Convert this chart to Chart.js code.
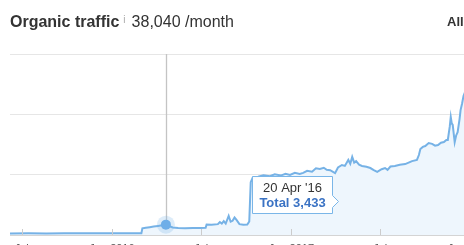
<!DOCTYPE html>
<html>
<head>
<meta charset="utf-8">
<script src="https://cdn.jsdelivr.net/npm/chart.js@4.4.0/dist/chart.umd.min.js"></script>
<style>
html, body { margin: 0; padding: 0; background: #fff; overflow: hidden; }
body { width: 464px; height: 245px; position: relative; font-family: "Liberation Sans", Arial, sans-serif; }
#wrap { position: absolute; left: 0; top: 0; width: 464px; height: 256px; }
.title { position: absolute; left: 10px; top: 12px; font-size: 16px; line-height: 16px; color: #333; white-space: nowrap; }
.title b { font-weight: bold; }
.title .info { font-size: 10px; color: #aaa; vertical-align: 4px; margin: 0 6px 0 4px; }
.range { position: absolute; left: 447px; top: 15px; font-size: 13px; line-height: 13px; font-weight: bold; color: #333; white-space: nowrap; }
</style>
</head>
<body>
<div id="wrap"><canvas id="traffic_chart"></canvas></div>
<div class="title"><b>Organic traffic</b><span class="info">i</span>38,040 /month</div>
<div class="range">All time</div>
<script>
// organic traffic per day
var dates = [
  '2015-06-07', '2015-07-15', '2015-08-20', '2015-09-25', '2015-10-30', '2015-12-05', '2016-01-10', '2016-02-15',
  '2016-03-01', '2016-03-03', '2016-03-10', '2016-03-18', '2016-03-26', '2016-04-04', '2016-04-12', '2016-04-20',
  '2016-04-27', '2016-05-04', '2016-05-15', '2016-05-29', '2016-06-14', '2016-06-28', '2016-07-10', '2016-07-12',
  '2016-07-22', '2016-08-04', '2016-08-08', '2016-08-12', '2016-08-16', '2016-08-20', '2016-08-26', '2016-08-30',
  '2016-09-03', '2016-09-07', '2016-09-11', '2016-09-17', '2016-09-25', '2016-10-03', '2016-10-07', '2016-10-10',
  '2016-10-14', '2016-10-25', '2016-11-05', '2016-11-18', '2016-11-28', '2016-12-10', '2016-12-20', '2016-12-29',
  '2017-01-08', '2017-01-18', '2017-01-25', '2017-02-02', '2017-02-12', '2017-02-20', '2017-02-28', '2017-03-08',
  '2017-03-14', '2017-03-21', '2017-03-31', '2017-04-06', '2017-04-14', '2017-04-20', '2017-04-27', '2017-05-01',
  '2017-05-05', '2017-05-09', '2017-05-13', '2017-05-19', '2017-05-25', '2017-06-03', '2017-06-11', '2017-06-18',
  '2017-06-25', '2017-07-04', '2017-07-11', '2017-07-16', '2017-07-22', '2017-07-31', '2017-08-10', '2017-08-21',
  '2017-08-28', '2017-09-04', '2017-09-14', '2017-09-18', '2017-09-21', '2017-09-26', '2017-10-01', '2017-10-08',
  '2017-10-15', '2017-10-21', '2017-10-27', '2017-11-02', '2017-11-08', '2017-11-13', '2017-11-16', '2017-11-20',
  '2017-11-22', '2017-11-24', '2017-11-26', '2017-11-30', '2017-12-03', '2017-12-06', '2017-12-10', '2017-12-12',
  '2017-12-15', '2017-12-18', '2017-12-24'
];
var traffic = [
  520, 540, 530, 560, 550, 570, 560, 580,
  590, 2200, 2400, 2600, 2800, 3000, 3200, 3433,
  2900, 2500, 2300, 2200, 2300, 2350, 2400, 3500,
  3400, 3600, 4300, 3800, 4600, 3800, 6300, 4400,
  4700, 5800, 5000, 3600, 3400, 3500, 4500, 17500,
  19000, 19300, 19800, 19500, 20100, 19700, 20300, 19900,
  20600, 20200, 20600, 21300, 21000, 22100, 21900, 22300,
  21600, 21500, 20500, 22400, 23200, 22900, 24900, 23600,
  25900, 24000, 24500, 23300, 22900, 22600, 22200, 21500,
  20900, 21800, 22200, 21600, 22700, 22900, 23300, 23500,
  24000, 24500, 24900, 26500, 28500, 29200, 29500, 30500,
  30200, 29600, 29800, 30600, 30800, 31500, 31500, 36000,
  39100, 37000, 36500, 30800, 33000, 34100, 38500, 41400,
  43500, 46100, 48500
];
var tickDates = ['2015-07-01', '2016-01-01', '2016-07-01', '2017-01-01', '2017-07-01', '2018-01-01'];
var tickLabels = ['Jul', 'Jan 2016', 'Jul', 'Jan 2017', 'Jul', 'Jan 2018'];
var axisStart = '2015-06-07';
var axisEnd = '2017-12-19';
var hoverDate = '2016-04-20';

var MONTHS = ['Jan','Feb','Mar','Apr','May','Jun','Jul','Aug','Sep','Oct','Nov','Dec'];
function dayOf(s) {
  var p = s.split('-');
  return Date.UTC(+p[0], +p[1] - 1, +p[2]) / 86400000;
}

var points = dates.map(function (d, i) { return { x: dayOf(d), y: traffic[i] }; });
var hoverIndex = dates.indexOf(hoverDate);

var hoverPlugin = {
  id: 'hover',
  beforeDatasetsDraw: function (chart) {
    var ctx = chart.ctx, area = chart.chartArea;
    var x = Math.round(chart.scales.x.getPixelForValue(points[hoverIndex].x)) + 0.5;
    ctx.save();
    ctx.strokeStyle = '#c4c4c4';
    ctx.lineWidth = 1.3;
    ctx.beginPath();
    ctx.moveTo(x, area.top);
    ctx.lineTo(x, area.bottom);
    ctx.stroke();
    ctx.restore();
  },
  afterDatasetsDraw: function (chart) {
    var ctx = chart.ctx, area = chart.chartArea;
    var xs = chart.scales.x, ys = chart.scales.y;
    ctx.save();
    // tick marks above the axis
    ctx.strokeStyle = '#cccccc';
    ctx.lineWidth = 1;
    xs.ticks.forEach(function (t) {
      var tx = Math.round(xs.getPixelForValue(t.value)) + 0.5;
      ctx.beginPath();
      ctx.moveTo(tx, area.bottom - 6);
      ctx.lineTo(tx, area.bottom);
      ctx.stroke();
    });
    // hovered point
    var px = xs.getPixelForValue(points[hoverIndex].x);
    var py = ys.getPixelForValue(points[hoverIndex].y);
    ctx.fillStyle = 'rgba(118,178,230,0.25)';
    ctx.beginPath(); ctx.arc(px, py, 9, 0, Math.PI * 2); ctx.fill();
    ctx.fillStyle = '#6eaee8';
    ctx.beginPath(); ctx.arc(px, py, 5, 0, Math.PI * 2); ctx.fill();
    // tooltip box with arrow on the right
    var bx = Math.round(px) + 86.5, by = Math.round(py) - 48.5, bw = 80, bh = 37;
    ctx.beginPath();
    ctx.moveTo(bx, by);
    ctx.lineTo(bx + bw, by);
    ctx.lineTo(bx + bw, by + 19);
    ctx.lineTo(bx + bw + 6, by + 25);
    ctx.lineTo(bx + bw, by + 31);
    ctx.lineTo(bx + bw, by + bh);
    ctx.lineTo(bx, by + bh);
    ctx.closePath();
    ctx.fillStyle = 'rgba(255,255,255,0.95)';
    ctx.fill();
    ctx.strokeStyle = '#7ab6e8';
    ctx.lineWidth = 1;
    ctx.stroke();
    var p = hoverDate.split('-');
    var label = (+p[2]) + ' ' + MONTHS[+p[1] - 1] + " '" + p[0].slice(2);
    ctx.textAlign = 'center';
    ctx.textBaseline = 'alphabetic';
    ctx.fillStyle = '#333';
    ctx.font = '13px "Liberation Sans", Arial, sans-serif';
    ctx.fillText(label, bx + bw / 2, by + 15);
    ctx.fillStyle = '#3b73c4';
    ctx.font = 'bold 13px "Liberation Sans", Arial, sans-serif';
    ctx.fillText('Total ' + traffic[hoverIndex].toLocaleString('en-US'), bx + bw / 2, by + 30);
    ctx.restore();
  }
};

var ctx = document.getElementById('traffic_chart');
var trafficChart = new Chart(ctx, {
  type: 'line',
  data: {
    datasets: [{
      label: 'Organic traffic',
      data: points,
      borderColor: '#76b2e6',
      backgroundColor: '#eef6fd',
      borderWidth: 2,
      fill: 'origin',
      pointRadius: 0,
      tension: 0
    }]
  },
  options: {
    responsive: true,
    maintainAspectRatio: false,
    animation: false,
    layout: { padding: { top: 54, left: 10, right: 0, bottom: 0 } },
    plugins: { legend: { display: false }, tooltip: { enabled: false } },
    events: [],
    scales: {
      x: {
        type: 'linear',
        min: dayOf(axisStart),
        max: dayOf(axisEnd),
        afterBuildTicks: function (scale) {
          scale.ticks = tickDates.map(function (d) { return { value: dayOf(d) }; });
        },
        afterFit: function (scale) {
          scale.height = 21;
          scale.paddingLeft = 0;
          scale.paddingRight = 0;
        },
        grid: { display: false, drawTicks: false },
        border: { color: '#d4d4d4', width: 1 },
        ticks: {
          autoSkip: false,
          maxRotation: 0,
          padding: 7,
          color: '#555',
          font: { family: '"Liberation Sans", Arial, sans-serif', size: 11 },
          callback: function (v, i) { return tickLabels[i]; }
        }
      },
      y: {
        min: 0,
        max: 60000,
        afterFit: function (scale) { scale.width = 0; },
        grid: { color: '#e6e6e6', drawTicks: false },
        border: { display: false },
        ticks: { display: false, stepSize: 20000 }
      }
    }
  },
  plugins: [hoverPlugin]
});
</script>
</body>
</html>
